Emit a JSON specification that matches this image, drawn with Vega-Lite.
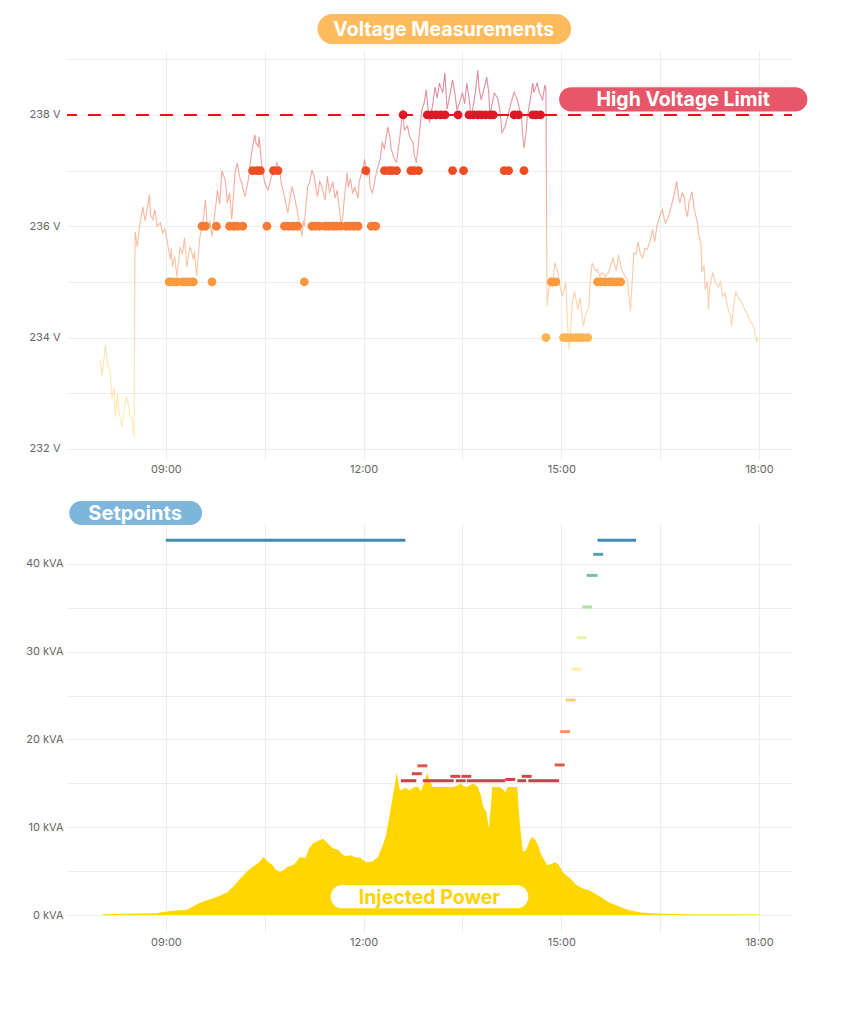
{
  "$schema": "https://vega.github.io/schema/vega-lite/v6.json",
  "background": "white",
  "padding": {"left": 25, "top": 14, "right": 0, "bottom": 0},
  "bounds": "flush",
  "spacing": 63,
  "config": {
    "view": {"stroke": null},
    "font": "Inter",
    "axis": {
      "domain": false,
      "ticks": false,
      "tickSize": 0,
      "labelColor": "#666666",
      "labelFont": "Inter",
      "labelFontSize": 11,
      "gridColor": "#EDEDF0",
      "gridWidth": 1,
      "title": null
    }
  },
  "vconcat": [
    {
      "width": 725,
      "height": 410,
      "layer": [
        {
          "data": {
            "format": {"parse": {"t": "utc:'%H:%M'"}},
            "values": [
              {"t": "08:00", "v": 233.6}, {"t": "08:02", "v": 233.3}, {"t": "08:04", "v": 233.7}, {"t": "08:05", "v": 233.87},
              {"t": "08:07", "v": 233.5}, {"t": "08:09", "v": 233.43}, {"t": "08:11", "v": 232.9}, {"t": "08:13", "v": 233.1},
              {"t": "08:14", "v": 232.58}, {"t": "08:16", "v": 233.0}, {"t": "08:17", "v": 232.7}, {"t": "08:20", "v": 232.39},
              {"t": "08:22", "v": 232.7}, {"t": "08:24", "v": 232.94}, {"t": "08:26", "v": 232.8}, {"t": "08:27", "v": 232.6},
              {"t": "08:29", "v": 232.55}, {"t": "08:31", "v": 232.2}, {"t": "08:32", "v": 235.9}, {"t": "08:34", "v": 235.63},
              {"t": "08:36", "v": 236.0}, {"t": "08:39", "v": 236.35}, {"t": "08:41", "v": 236.1}, {"t": "08:43", "v": 236.3},
              {"t": "08:45", "v": 236.57}, {"t": "08:46", "v": 236.2}, {"t": "08:48", "v": 236.12}, {"t": "08:50", "v": 236.3},
              {"t": "08:52", "v": 236.0}, {"t": "08:55", "v": 236.06}, {"t": "08:57", "v": 235.88}, {"t": "08:59", "v": 235.95},
              {"t": "09:01", "v": 235.76}, {"t": "09:04", "v": 235.4}, {"t": "09:05", "v": 235.6}, {"t": "09:06", "v": 235.27},
              {"t": "09:08", "v": 235.45}, {"t": "09:10", "v": 235.1}, {"t": "09:13", "v": 235.63}, {"t": "09:15", "v": 235.5},
              {"t": "09:17", "v": 235.79}, {"t": "09:19", "v": 235.27}, {"t": "09:22", "v": 235.63}, {"t": "09:24", "v": 235.5},
              {"t": "09:25", "v": 235.4}, {"t": "09:26", "v": 235.55}, {"t": "09:28", "v": 235.1}, {"t": "09:31", "v": 235.81},
              {"t": "09:34", "v": 236.12}, {"t": "09:36", "v": 236.47}, {"t": "09:38", "v": 235.94}, {"t": "09:40", "v": 236.1},
              {"t": "09:42", "v": 235.81}, {"t": "09:45", "v": 236.3}, {"t": "09:47", "v": 236.65}, {"t": "09:49", "v": 236.4},
              {"t": "09:51", "v": 237.0}, {"t": "09:54", "v": 236.83}, {"t": "09:56", "v": 236.42}, {"t": "09:58", "v": 236.6},
              {"t": "10:00", "v": 236.12}, {"t": "10:03", "v": 236.96}, {"t": "10:05", "v": 237.14}, {"t": "10:07", "v": 236.9},
              {"t": "10:09", "v": 236.78}, {"t": "10:12", "v": 236.53}, {"t": "10:15", "v": 236.83}, {"t": "10:16", "v": 237.0},
              {"t": "10:18", "v": 237.32}, {"t": "10:21", "v": 237.64}, {"t": "10:22", "v": 237.5}, {"t": "10:24", "v": 237.43},
              {"t": "10:25", "v": 237.6}, {"t": "10:27", "v": 237.14}, {"t": "10:30", "v": 236.78}, {"t": "10:33", "v": 236.65},
              {"t": "10:35", "v": 236.8}, {"t": "10:36", "v": 236.89}, {"t": "10:39", "v": 237.0}, {"t": "10:41", "v": 237.14},
              {"t": "10:44", "v": 236.95}, {"t": "10:45", "v": 236.78}, {"t": "10:48", "v": 236.53}, {"t": "10:51", "v": 236.24},
              {"t": "10:53", "v": 236.5}, {"t": "10:55", "v": 236.71}, {"t": "10:57", "v": 236.53}, {"t": "11:00", "v": 236.24},
              {"t": "11:02", "v": 236.0}, {"t": "11:04", "v": 235.81}, {"t": "11:05", "v": 236.1}, {"t": "11:06", "v": 236.0},
              {"t": "11:09", "v": 236.71}, {"t": "11:11", "v": 236.8}, {"t": "11:13", "v": 237.01}, {"t": "11:15", "v": 236.89},
              {"t": "11:18", "v": 236.53}, {"t": "11:20", "v": 236.8}, {"t": "11:22", "v": 236.71}, {"t": "11:25", "v": 236.47},
              {"t": "11:27", "v": 236.9}, {"t": "11:29", "v": 236.6}, {"t": "11:32", "v": 236.8}, {"t": "11:34", "v": 236.5},
              {"t": "11:36", "v": 236.65}, {"t": "11:38", "v": 236.3}, {"t": "11:40", "v": 235.94}, {"t": "11:42", "v": 236.4},
              {"t": "11:45", "v": 236.96}, {"t": "11:46", "v": 236.7}, {"t": "11:48", "v": 236.85}, {"t": "11:50", "v": 236.6},
              {"t": "11:52", "v": 236.7}, {"t": "11:55", "v": 236.5}, {"t": "11:56", "v": 236.8}, {"t": "11:59", "v": 237.0},
              {"t": "12:01", "v": 237.2}, {"t": "12:03", "v": 236.9}, {"t": "12:05", "v": 236.96}, {"t": "12:06", "v": 236.7},
              {"t": "12:08", "v": 236.6}, {"t": "12:10", "v": 236.8}, {"t": "12:12", "v": 237.0}, {"t": "12:15", "v": 237.2},
              {"t": "12:17", "v": 237.5}, {"t": "12:19", "v": 237.4}, {"t": "12:22", "v": 237.78}, {"t": "12:24", "v": 237.6},
              {"t": "12:25", "v": 237.4}, {"t": "12:28", "v": 237.2}, {"t": "12:30", "v": 237.15}, {"t": "12:33", "v": 237.6},
              {"t": "12:35", "v": 237.96}, {"t": "12:36", "v": 238.1}, {"t": "12:37", "v": 237.73}, {"t": "12:40", "v": 237.8},
              {"t": "12:42", "v": 237.6}, {"t": "12:45", "v": 237.5}, {"t": "12:46", "v": 237.3}, {"t": "12:48", "v": 237.14},
              {"t": "12:50", "v": 237.5}, {"t": "12:53", "v": 238.09}, {"t": "12:55", "v": 238.2}, {"t": "12:57", "v": 238.45},
              {"t": "13:00", "v": 237.86}, {"t": "13:03", "v": 238.2}, {"t": "13:05", "v": 238.5}, {"t": "13:07", "v": 238.3},
              {"t": "13:09", "v": 238.57}, {"t": "13:12", "v": 238.4}, {"t": "13:14", "v": 238.75}, {"t": "13:16", "v": 238.1},
              {"t": "13:18", "v": 238.3}, {"t": "13:21", "v": 238.63}, {"t": "13:23", "v": 238.4}, {"t": "13:25", "v": 238.09},
              {"t": "13:27", "v": 238.2}, {"t": "13:30", "v": 238.4}, {"t": "13:32", "v": 238.2}, {"t": "13:34", "v": 238.57},
              {"t": "13:36", "v": 238.3}, {"t": "13:38", "v": 237.96}, {"t": "13:41", "v": 238.3}, {"t": "13:44", "v": 238.8},
              {"t": "13:45", "v": 238.5}, {"t": "13:47", "v": 238.27}, {"t": "13:50", "v": 238.5}, {"t": "13:52", "v": 238.68},
              {"t": "13:54", "v": 238.4}, {"t": "13:55", "v": 237.96}, {"t": "13:57", "v": 238.2}, {"t": "13:59", "v": 238.39},
              {"t": "14:02", "v": 238.3}, {"t": "14:04", "v": 238.1}, {"t": "14:05", "v": 237.9}, {"t": "14:06", "v": 237.68},
              {"t": "14:09", "v": 237.8}, {"t": "14:11", "v": 237.96}, {"t": "14:14", "v": 238.2}, {"t": "14:17", "v": 238.41},
              {"t": "14:20", "v": 238.27}, {"t": "14:22", "v": 238.1}, {"t": "14:24", "v": 237.9}, {"t": "14:25", "v": 237.6},
              {"t": "14:26", "v": 237.4}, {"t": "14:28", "v": 237.7}, {"t": "14:29", "v": 237.96}, {"t": "14:32", "v": 238.3},
              {"t": "14:34", "v": 238.57}, {"t": "14:35", "v": 238.4}, {"t": "14:38", "v": 238.57}, {"t": "14:40", "v": 238.4},
              {"t": "14:43", "v": 238.27}, {"t": "14:45", "v": 238.54}, {"t": "14:46", "v": 238.45}, {"t": "14:47", "v": 234.56},
              {"t": "14:50", "v": 235.09}, {"t": "14:52", "v": 234.9}, {"t": "14:54", "v": 235.34}, {"t": "14:57", "v": 235.17},
              {"t": "14:59", "v": 234.9}, {"t": "15:01", "v": 234.74}, {"t": "15:04", "v": 234.99}, {"t": "15:06", "v": 234.14},
              {"t": "15:07", "v": 233.78}, {"t": "15:09", "v": 234.3}, {"t": "15:10", "v": 234.63}, {"t": "15:12", "v": 234.83},
              {"t": "15:15", "v": 234.5}, {"t": "15:17", "v": 234.72}, {"t": "15:20", "v": 234.2}, {"t": "15:22", "v": 234.4},
              {"t": "15:25", "v": 234.54}, {"t": "15:26", "v": 234.9}, {"t": "15:28", "v": 235.34}, {"t": "15:31", "v": 235.2},
              {"t": "15:33", "v": 235.22}, {"t": "15:35", "v": 235.1}, {"t": "15:37", "v": 235.17}, {"t": "15:40", "v": 235.1},
              {"t": "15:43", "v": 235.17}, {"t": "15:45", "v": 235.3}, {"t": "15:47", "v": 235.43}, {"t": "15:50", "v": 235.2},
              {"t": "15:52", "v": 235.49}, {"t": "15:54", "v": 235.3}, {"t": "15:55", "v": 235.22}, {"t": "15:58", "v": 235.1},
              {"t": "16:00", "v": 235.04}, {"t": "16:03", "v": 234.47}, {"t": "16:06", "v": 235.52}, {"t": "16:08", "v": 235.5},
              {"t": "16:10", "v": 235.72}, {"t": "16:12", "v": 235.5}, {"t": "16:14", "v": 235.43}, {"t": "16:16", "v": 235.6},
              {"t": "16:18", "v": 235.58}, {"t": "16:21", "v": 235.75}, {"t": "16:23", "v": 235.94}, {"t": "16:25", "v": 235.72},
              {"t": "16:27", "v": 236.0}, {"t": "16:30", "v": 236.2}, {"t": "16:32", "v": 236.3}, {"t": "16:34", "v": 236.1},
              {"t": "16:35", "v": 236.06}, {"t": "16:38", "v": 236.2}, {"t": "16:40", "v": 236.35}, {"t": "16:43", "v": 236.6},
              {"t": "16:45", "v": 236.8}, {"t": "16:47", "v": 236.5}, {"t": "16:48", "v": 236.42}, {"t": "16:50", "v": 236.6},
              {"t": "16:52", "v": 236.53}, {"t": "16:53", "v": 236.3}, {"t": "16:55", "v": 236.17}, {"t": "16:56", "v": 236.4},
              {"t": "16:59", "v": 236.62}, {"t": "17:01", "v": 236.3}, {"t": "17:04", "v": 236.06}, {"t": "17:05", "v": 235.85},
              {"t": "17:07", "v": 235.7}, {"t": "17:08", "v": 235.17}, {"t": "17:10", "v": 235.3}, {"t": "17:11", "v": 234.86},
              {"t": "17:13", "v": 235.0}, {"t": "17:14", "v": 234.5}, {"t": "17:15", "v": 234.9}, {"t": "17:18", "v": 235.17},
              {"t": "17:20", "v": 235.0}, {"t": "17:23", "v": 234.91}, {"t": "17:25", "v": 235.0}, {"t": "17:27", "v": 234.74},
              {"t": "17:29", "v": 234.8}, {"t": "17:32", "v": 234.5}, {"t": "17:34", "v": 234.4}, {"t": "17:35", "v": 234.2},
              {"t": "17:37", "v": 234.6}, {"t": "17:39", "v": 234.83}, {"t": "17:41", "v": 234.7}, {"t": "17:43", "v": 234.68},
              {"t": "17:45", "v": 234.6}, {"t": "17:47", "v": 234.5}, {"t": "17:49", "v": 234.45}, {"t": "17:50", "v": 234.38},
              {"t": "17:52", "v": 234.3}, {"t": "17:55", "v": 234.2}, {"t": "17:56", "v": 234.1}, {"t": "17:58", "v": 233.91},
              {"t": "17:59", "v": 234.0}
            ]
          },
          "mark": {
            "type": "line",
            "strokeWidth": 1.1,
            "strokeOpacity": 0.6,
            "color": {
              "gradient": "linear",
              "x1": 0, "y1": 1, "x2": 0, "y2": 0,
              "stops": [
                {"offset": 0, "color": "#FFE07A"},
                {"offset": 0.2, "color": "#FFD27A"},
                {"offset": 0.35, "color": "#FDB878"},
                {"offset": 0.5, "color": "#F99A68"},
                {"offset": 0.65, "color": "#F27A5C"},
                {"offset": 0.8, "color": "#E45A5A"},
                {"offset": 0.95, "color": "#CC3E60"},
                {"offset": 1, "color": "#C23A5E"}
              ]
            }
          },
          "encoding": {
            "x": {
              "field": "t",
              "type": "temporal",
              "scale": {
                "type": "utc",
                "domain": [
                  {"utc": true, "year": 1900, "month": 1, "date": 1, "hours": 7, "minutes": 30},
                  {"utc": true, "year": 1900, "month": 1, "date": 1, "hours": 18, "minutes": 30}
                ]
              },
              "axis": {
                "grid": true,
                "labelPadding": 3,
                "values": [
                  {"utc": true, "year": 1900, "month": 1, "date": 1, "hours": 9, "minutes": 0},
                  {"utc": true, "year": 1900, "month": 1, "date": 1, "hours": 10, "minutes": 30},
                  {"utc": true, "year": 1900, "month": 1, "date": 1, "hours": 12, "minutes": 0},
                  {"utc": true, "year": 1900, "month": 1, "date": 1, "hours": 13, "minutes": 30},
                  {"utc": true, "year": 1900, "month": 1, "date": 1, "hours": 15, "minutes": 0},
                  {"utc": true, "year": 1900, "month": 1, "date": 1, "hours": 16, "minutes": 30},
                  {"utc": true, "year": 1900, "month": 1, "date": 1, "hours": 18, "minutes": 0}
                ],
                "labelExpr": "utcminutes(datum.value) == 0 && utchours(datum.value) % 3 == 0 ? utcFormat(datum.value, '%H:%M') : ''"
              }
            },
            "y": {
              "field": "v",
              "type": "quantitative",
              "scale": {"domain": [231.8, 239.166], "nice": false, "zero": false},
              "axis": {
                "grid": true,
                "labelPadding": 7,
                "values": [232, 233, 234, 235, 236, 237, 238, 239],
                "labelExpr": "datum.value % 2 == 0 ? datum.value + ' V' : ''"
              }
            }
          }
        },
        {
          "data": {"values": [{}]},
          "mark": {"type": "rule", "color": "#E8161C", "strokeWidth": 2, "strokeDash": [13, 11], "strokeDashOffset": 5},
          "encoding": {"y": {"datum": 238}}
        },
        {
          "data": {
            "format": {"parse": {"t": "utc:'%H:%M'"}},
            "values": [
              {"t": "12:36", "v": 238}, {"t": "12:58", "v": 238}, {"t": "13:02", "v": 238}, {"t": "13:06", "v": 238},
              {"t": "13:10", "v": 238}, {"t": "13:14", "v": 238}, {"t": "13:26", "v": 238}, {"t": "13:36", "v": 238},
              {"t": "13:40", "v": 238}, {"t": "13:44", "v": 238}, {"t": "13:47", "v": 238}, {"t": "13:51", "v": 238},
              {"t": "13:55", "v": 238}, {"t": "13:58", "v": 238}, {"t": "14:17", "v": 238}, {"t": "14:21", "v": 238},
              {"t": "14:34", "v": 238}, {"t": "14:37", "v": 238}, {"t": "14:41", "v": 238},
              {"t": "10:19", "v": 237}, {"t": "10:23", "v": 237}, {"t": "10:26", "v": 237}, {"t": "10:38", "v": 237},
              {"t": "10:42", "v": 237}, {"t": "12:02", "v": 237}, {"t": "12:19", "v": 237}, {"t": "12:23", "v": 237},
              {"t": "12:26", "v": 237}, {"t": "12:30", "v": 237}, {"t": "12:43", "v": 237}, {"t": "12:46", "v": 237},
              {"t": "12:50", "v": 237}, {"t": "13:21", "v": 237}, {"t": "13:31", "v": 237}, {"t": "14:08", "v": 237},
              {"t": "14:12", "v": 237}, {"t": "14:26", "v": 237},
              {"t": "09:33", "v": 236}, {"t": "09:36", "v": 236}, {"t": "09:46", "v": 236}, {"t": "09:58", "v": 236},
              {"t": "10:02", "v": 236}, {"t": "10:05", "v": 236}, {"t": "10:10", "v": 236}, {"t": "10:32", "v": 236},
              {"t": "10:48", "v": 236}, {"t": "10:52", "v": 236}, {"t": "10:56", "v": 236}, {"t": "11:00", "v": 236},
              {"t": "11:13", "v": 236}, {"t": "11:16", "v": 236}, {"t": "11:20", "v": 236}, {"t": "11:25", "v": 236},
              {"t": "11:28", "v": 236}, {"t": "11:32", "v": 236}, {"t": "11:35", "v": 236}, {"t": "11:39", "v": 236},
              {"t": "11:44", "v": 236}, {"t": "11:47", "v": 236}, {"t": "11:51", "v": 236}, {"t": "11:55", "v": 236},
              {"t": "12:07", "v": 236}, {"t": "12:11", "v": 236},
              {"t": "09:03", "v": 235}, {"t": "09:06", "v": 235}, {"t": "09:10", "v": 235}, {"t": "09:15", "v": 235},
              {"t": "09:18", "v": 235}, {"t": "09:22", "v": 235}, {"t": "09:25", "v": 235}, {"t": "09:42", "v": 235},
              {"t": "11:06", "v": 235}, {"t": "14:51", "v": 235}, {"t": "14:55", "v": 235}, {"t": "15:33", "v": 235},
              {"t": "15:36", "v": 235}, {"t": "15:40", "v": 235}, {"t": "15:44", "v": 235}, {"t": "15:47", "v": 235},
              {"t": "15:51", "v": 235}, {"t": "15:54", "v": 235},
              {"t": "14:46", "v": 234}, {"t": "15:02", "v": 234}, {"t": "15:05", "v": 234}, {"t": "15:09", "v": 234},
              {"t": "15:13", "v": 234}, {"t": "15:16", "v": 234}, {"t": "15:20", "v": 234}, {"t": "15:24", "v": 234}
            ]
          },
          "mark": {"type": "circle", "size": 78, "opacity": 1},
          "encoding": {
            "x": {"field": "t", "type": "temporal"},
            "y": {"field": "v", "type": "quantitative"},
            "color": {
              "field": "v",
              "type": "ordinal",
              "legend": null,
              "scale": {
                "domain": [234, 235, 236, 237, 238],
                "range": ["#FDB44E", "#FC9A3D", "#F87B33", "#EF4E25", "#DA1A26"]
              }
            }
          }
        },
        {
          "data": {"values": [{}]},
          "mark": {"type": "rect", "cornerRadius": 15, "color": "#FDBB5E"},
          "encoding": {
            "x": {"datum": {"utc": true, "year": 1900, "month": 1, "date": 1, "hours": 11, "minutes": 18}},
            "x2": {"datum": {"utc": true, "year": 1900, "month": 1, "date": 1, "hours": 15, "minutes": 9}},
            "y": {"datum": 239.274},
            "y2": {"datum": 239.812}
          }
        },
        {
          "data": {"values": [{}]},
          "mark": {"type": "text", "text": "Voltage Measurements", "color": "white", "font": "Inter", "fontWeight": 700, "fontSize": 19.5, "align": "center", "baseline": "middle", "dy": 1},
          "encoding": {
            "x": {"datum": {"utc": true, "year": 1900, "month": 1, "date": 1, "hours": 13, "minutes": 13}},
            "y": {"datum": 239.543}
          }
        },
        {
          "data": {"values": [{}]},
          "mark": {"type": "rect", "cornerRadius": 12, "color": "#E8566A"},
          "encoding": {
            "x": {"datum": {"utc": true, "year": 1900, "month": 1, "date": 1, "hours": 14, "minutes": 58}},
            "x2": {"datum": {"utc": true, "year": 1900, "month": 1, "date": 1, "hours": 18, "minutes": 44}},
            "y": {"datum": 238.059},
            "y2": {"datum": 238.497}
          }
        },
        {
          "data": {"values": [{}]},
          "mark": {"type": "text", "text": "High Voltage Limit", "color": "white", "font": "Inter", "fontWeight": 700, "fontSize": 19.5, "align": "center", "baseline": "middle", "dy": 1},
          "encoding": {
            "x": {"datum": {"utc": true, "year": 1900, "month": 1, "date": 1, "hours": 16, "minutes": 51}},
            "y": {"datum": 238.278}
          }
        }
      ]
    },
    {
      "width": 725,
      "height": 410,
      "layer": [
        {
          "data": {
            "format": {"parse": {"t": "utc:'%H:%M'"}},
            "values": [
              {"t": "08:02", "kva": 0.1}, {"t": "08:52", "kva": 0.2}, {"t": "08:55", "kva": 0.3}, {"t": "09:04", "kva": 0.45},
              {"t": "09:19", "kva": 0.6}, {"t": "09:31", "kva": 1.4}, {"t": "09:43", "kva": 1.9}, {"t": "09:49", "kva": 2.2},
              {"t": "09:56", "kva": 2.6}, {"t": "10:01", "kva": 3.2}, {"t": "10:08", "kva": 4.2}, {"t": "10:14", "kva": 5.0},
              {"t": "10:19", "kva": 5.5}, {"t": "10:25", "kva": 6.0}, {"t": "10:29", "kva": 6.6}, {"t": "10:33", "kva": 6.1},
              {"t": "10:37", "kva": 5.7}, {"t": "10:40", "kva": 5.2}, {"t": "10:44", "kva": 4.9}, {"t": "10:48", "kva": 5.2},
              {"t": "10:51", "kva": 5.5}, {"t": "10:56", "kva": 5.7}, {"t": "10:59", "kva": 6.1}, {"t": "11:02", "kva": 6.6},
              {"t": "11:07", "kva": 6.5}, {"t": "11:10", "kva": 7.5}, {"t": "11:14", "kva": 8.2}, {"t": "11:18", "kva": 8.4},
              {"t": "11:23", "kva": 8.7}, {"t": "11:27", "kva": 8.2}, {"t": "11:32", "kva": 7.6}, {"t": "11:37", "kva": 7.4},
              {"t": "11:40", "kva": 7.0}, {"t": "11:43", "kva": 6.7}, {"t": "11:48", "kva": 6.8}, {"t": "11:52", "kva": 6.6},
              {"t": "11:57", "kva": 6.5}, {"t": "12:00", "kva": 6.2}, {"t": "12:03", "kva": 6.0}, {"t": "12:08", "kva": 6.1},
              {"t": "12:13", "kva": 6.6}, {"t": "12:17", "kva": 7.8}, {"t": "12:20", "kva": 8.9}, {"t": "12:22", "kva": 10.2},
              {"t": "12:24", "kva": 11.6}, {"t": "12:27", "kva": 13.9}, {"t": "12:29", "kva": 15.2}, {"t": "12:30", "kva": 16.2},
              {"t": "12:32", "kva": 15.0}, {"t": "12:33", "kva": 14.2}, {"t": "12:38", "kva": 14.5}, {"t": "12:42", "kva": 14.2},
              {"t": "12:46", "kva": 14.6}, {"t": "12:50", "kva": 14.6}, {"t": "12:52", "kva": 14.1}, {"t": "12:55", "kva": 15.0},
              {"t": "12:58", "kva": 16.2}, {"t": "13:00", "kva": 15.3}, {"t": "13:03", "kva": 14.6}, {"t": "13:10", "kva": 14.6},
              {"t": "13:21", "kva": 14.6}, {"t": "13:26", "kva": 14.8}, {"t": "13:28", "kva": 15.0}, {"t": "13:31", "kva": 14.7},
              {"t": "13:34", "kva": 14.6}, {"t": "13:40", "kva": 15.0}, {"t": "13:44", "kva": 14.6}, {"t": "13:47", "kva": 13.5},
              {"t": "13:49", "kva": 12.3}, {"t": "13:52", "kva": 11.7}, {"t": "13:54", "kva": 9.9}, {"t": "13:56", "kva": 12.5},
              {"t": "13:57", "kva": 14.6}, {"t": "14:04", "kva": 14.6}, {"t": "14:07", "kva": 14.3}, {"t": "14:09", "kva": 14.0},
              {"t": "14:11", "kva": 14.6}, {"t": "14:20", "kva": 14.6}, {"t": "14:21", "kva": 12.3}, {"t": "14:23", "kva": 9.5},
              {"t": "14:25", "kva": 7.2}, {"t": "14:28", "kva": 7.4}, {"t": "14:31", "kva": 8.4}, {"t": "14:33", "kva": 8.9},
              {"t": "14:36", "kva": 8.6}, {"t": "14:38", "kva": 8.2}, {"t": "14:42", "kva": 6.8}, {"t": "14:47", "kva": 5.7},
              {"t": "14:51", "kva": 5.8}, {"t": "14:54", "kva": 6.0}, {"t": "14:57", "kva": 5.8}, {"t": "15:02", "kva": 4.8},
              {"t": "15:08", "kva": 4.2}, {"t": "15:14", "kva": 3.4}, {"t": "15:20", "kva": 3.0}, {"t": "15:26", "kva": 2.8},
              {"t": "15:35", "kva": 2.1}, {"t": "15:44", "kva": 1.4}, {"t": "15:50", "kva": 1.1}, {"t": "15:56", "kva": 0.8},
              {"t": "16:03", "kva": 0.5}, {"t": "16:12", "kva": 0.3}, {"t": "16:30", "kva": 0.15}, {"t": "17:00", "kva": 0.1},
              {"t": "17:34", "kva": 0.08}, {"t": "18:01", "kva": 0.05}
            ]
          },
          "mark": {"type": "area", "color": "#FFD600", "opacity": 1},
          "encoding": {
            "x": {
              "field": "t",
              "type": "temporal",
              "scale": {
                "type": "utc",
                "domain": [
                  {"utc": true, "year": 1900, "month": 1, "date": 1, "hours": 7, "minutes": 30},
                  {"utc": true, "year": 1900, "month": 1, "date": 1, "hours": 18, "minutes": 30}
                ]
              },
              "axis": {
                "grid": true,
                "labelPadding": 3,
                "values": [
                  {"utc": true, "year": 1900, "month": 1, "date": 1, "hours": 9, "minutes": 0},
                  {"utc": true, "year": 1900, "month": 1, "date": 1, "hours": 10, "minutes": 30},
                  {"utc": true, "year": 1900, "month": 1, "date": 1, "hours": 12, "minutes": 0},
                  {"utc": true, "year": 1900, "month": 1, "date": 1, "hours": 13, "minutes": 30},
                  {"utc": true, "year": 1900, "month": 1, "date": 1, "hours": 15, "minutes": 0},
                  {"utc": true, "year": 1900, "month": 1, "date": 1, "hours": 16, "minutes": 30},
                  {"utc": true, "year": 1900, "month": 1, "date": 1, "hours": 18, "minutes": 0}
                ],
                "labelExpr": "utcminutes(datum.value) == 0 && utchours(datum.value) % 3 == 0 ? utcFormat(datum.value, '%H:%M') : ''"
              }
            },
            "y": {
              "field": "kva",
              "type": "quantitative",
              "scale": {"domain": [-2.05, 44.67], "nice": false, "zero": false},
              "axis": {
                "grid": true,
                "labelPadding": 4,
                "values": [0, 5, 10, 15, 20, 25, 30, 35, 40],
                "labelExpr": "datum.value % 10 == 0 ? datum.value + ' kVA' : ''"
              }
            }
          }
        },
        {
          "data": {
            "format": {"parse": {"t": "utc:'%H:%M'", "t2": "utc:'%H:%M'"}},
            "values": [
              {"t": "09:00", "t2": "12:38", "sp": 42.7},
              {"t": "12:34", "t2": "12:48", "sp": 15.3},
              {"t": "12:44", "t2": "12:53", "sp": 16.1},
              {"t": "12:49", "t2": "12:58", "sp": 17.0},
              {"t": "12:54", "t2": "13:22", "sp": 15.3},
              {"t": "13:19", "t2": "13:28", "sp": 15.8},
              {"t": "13:24", "t2": "13:33", "sp": 15.3},
              {"t": "13:29", "t2": "13:38", "sp": 15.8},
              {"t": "13:34", "t2": "14:09", "sp": 15.3},
              {"t": "14:09", "t2": "14:18", "sp": 15.45},
              {"t": "14:20", "t2": "14:28", "sp": 15.3},
              {"t": "14:24", "t2": "14:33", "sp": 15.8},
              {"t": "14:30", "t2": "14:58", "sp": 15.3},
              {"t": "14:54", "t2": "15:03", "sp": 17.1},
              {"t": "14:59", "t2": "15:08", "sp": 20.9},
              {"t": "15:04", "t2": "15:13", "sp": 24.5},
              {"t": "15:09", "t2": "15:18", "sp": 28.0},
              {"t": "15:14", "t2": "15:23", "sp": 31.6},
              {"t": "15:19", "t2": "15:28", "sp": 35.1},
              {"t": "15:23", "t2": "15:33", "sp": 38.7},
              {"t": "15:29", "t2": "15:38", "sp": 41.1},
              {"t": "15:33", "t2": "16:08", "sp": 42.7}
            ]
          },
          "mark": {"type": "rule", "strokeWidth": 3},
          "encoding": {
            "x": {"field": "t", "type": "temporal"},
            "x2": {"field": "t2"},
            "y": {"field": "sp", "type": "quantitative"},
            "color": {
              "field": "sp",
              "type": "quantitative",
              "legend": null,
              "scale": {"scheme": {"name": "spectral", "extent": [0.1, 0.9]}, "domain": [15.3, 42.7]}
            }
          }
        },
        {
          "data": {"values": [{}]},
          "mark": {"type": "rect", "cornerRadius": 12, "color": "#7DB5DB"},
          "encoding": {
            "x": {"datum": {"utc": true, "year": 1900, "month": 1, "date": 1, "hours": 7, "minutes": 32}},
            "x2": {"datum": {"utc": true, "year": 1900, "month": 1, "date": 1, "hours": 9, "minutes": 33}},
            "y": {"datum": 44.44},
            "y2": {"datum": 47.18}
          }
        },
        {
          "data": {"values": [{}]},
          "mark": {"type": "text", "text": "Setpoints", "color": "white", "font": "Inter", "fontWeight": 700, "fontSize": 20, "align": "center", "baseline": "middle", "dy": 1},
          "encoding": {
            "x": {"datum": {"utc": true, "year": 1900, "month": 1, "date": 1, "hours": 8, "minutes": 32}},
            "y": {"datum": 45.81}
          }
        },
        {
          "data": {"values": [{}]},
          "mark": {"type": "rect", "cornerRadius": 12, "color": "white"},
          "encoding": {
            "x": {"datum": {"utc": true, "year": 1900, "month": 1, "date": 1, "hours": 11, "minutes": 30}},
            "x2": {"datum": {"utc": true, "year": 1900, "month": 1, "date": 1, "hours": 14, "minutes": 30}},
            "y": {"datum": 0.76},
            "y2": {"datum": 3.42}
          }
        },
        {
          "data": {"values": [{}]},
          "mark": {"type": "text", "text": "Injected Power", "color": "#FFD200", "font": "Inter", "fontWeight": 700, "fontSize": 19.5, "align": "center", "baseline": "middle", "dy": 1},
          "encoding": {
            "x": {"datum": {"utc": true, "year": 1900, "month": 1, "date": 1, "hours": 13, "minutes": 0}},
            "y": {"datum": 2.1}
          }
        }
      ]
    }
  ]
}
